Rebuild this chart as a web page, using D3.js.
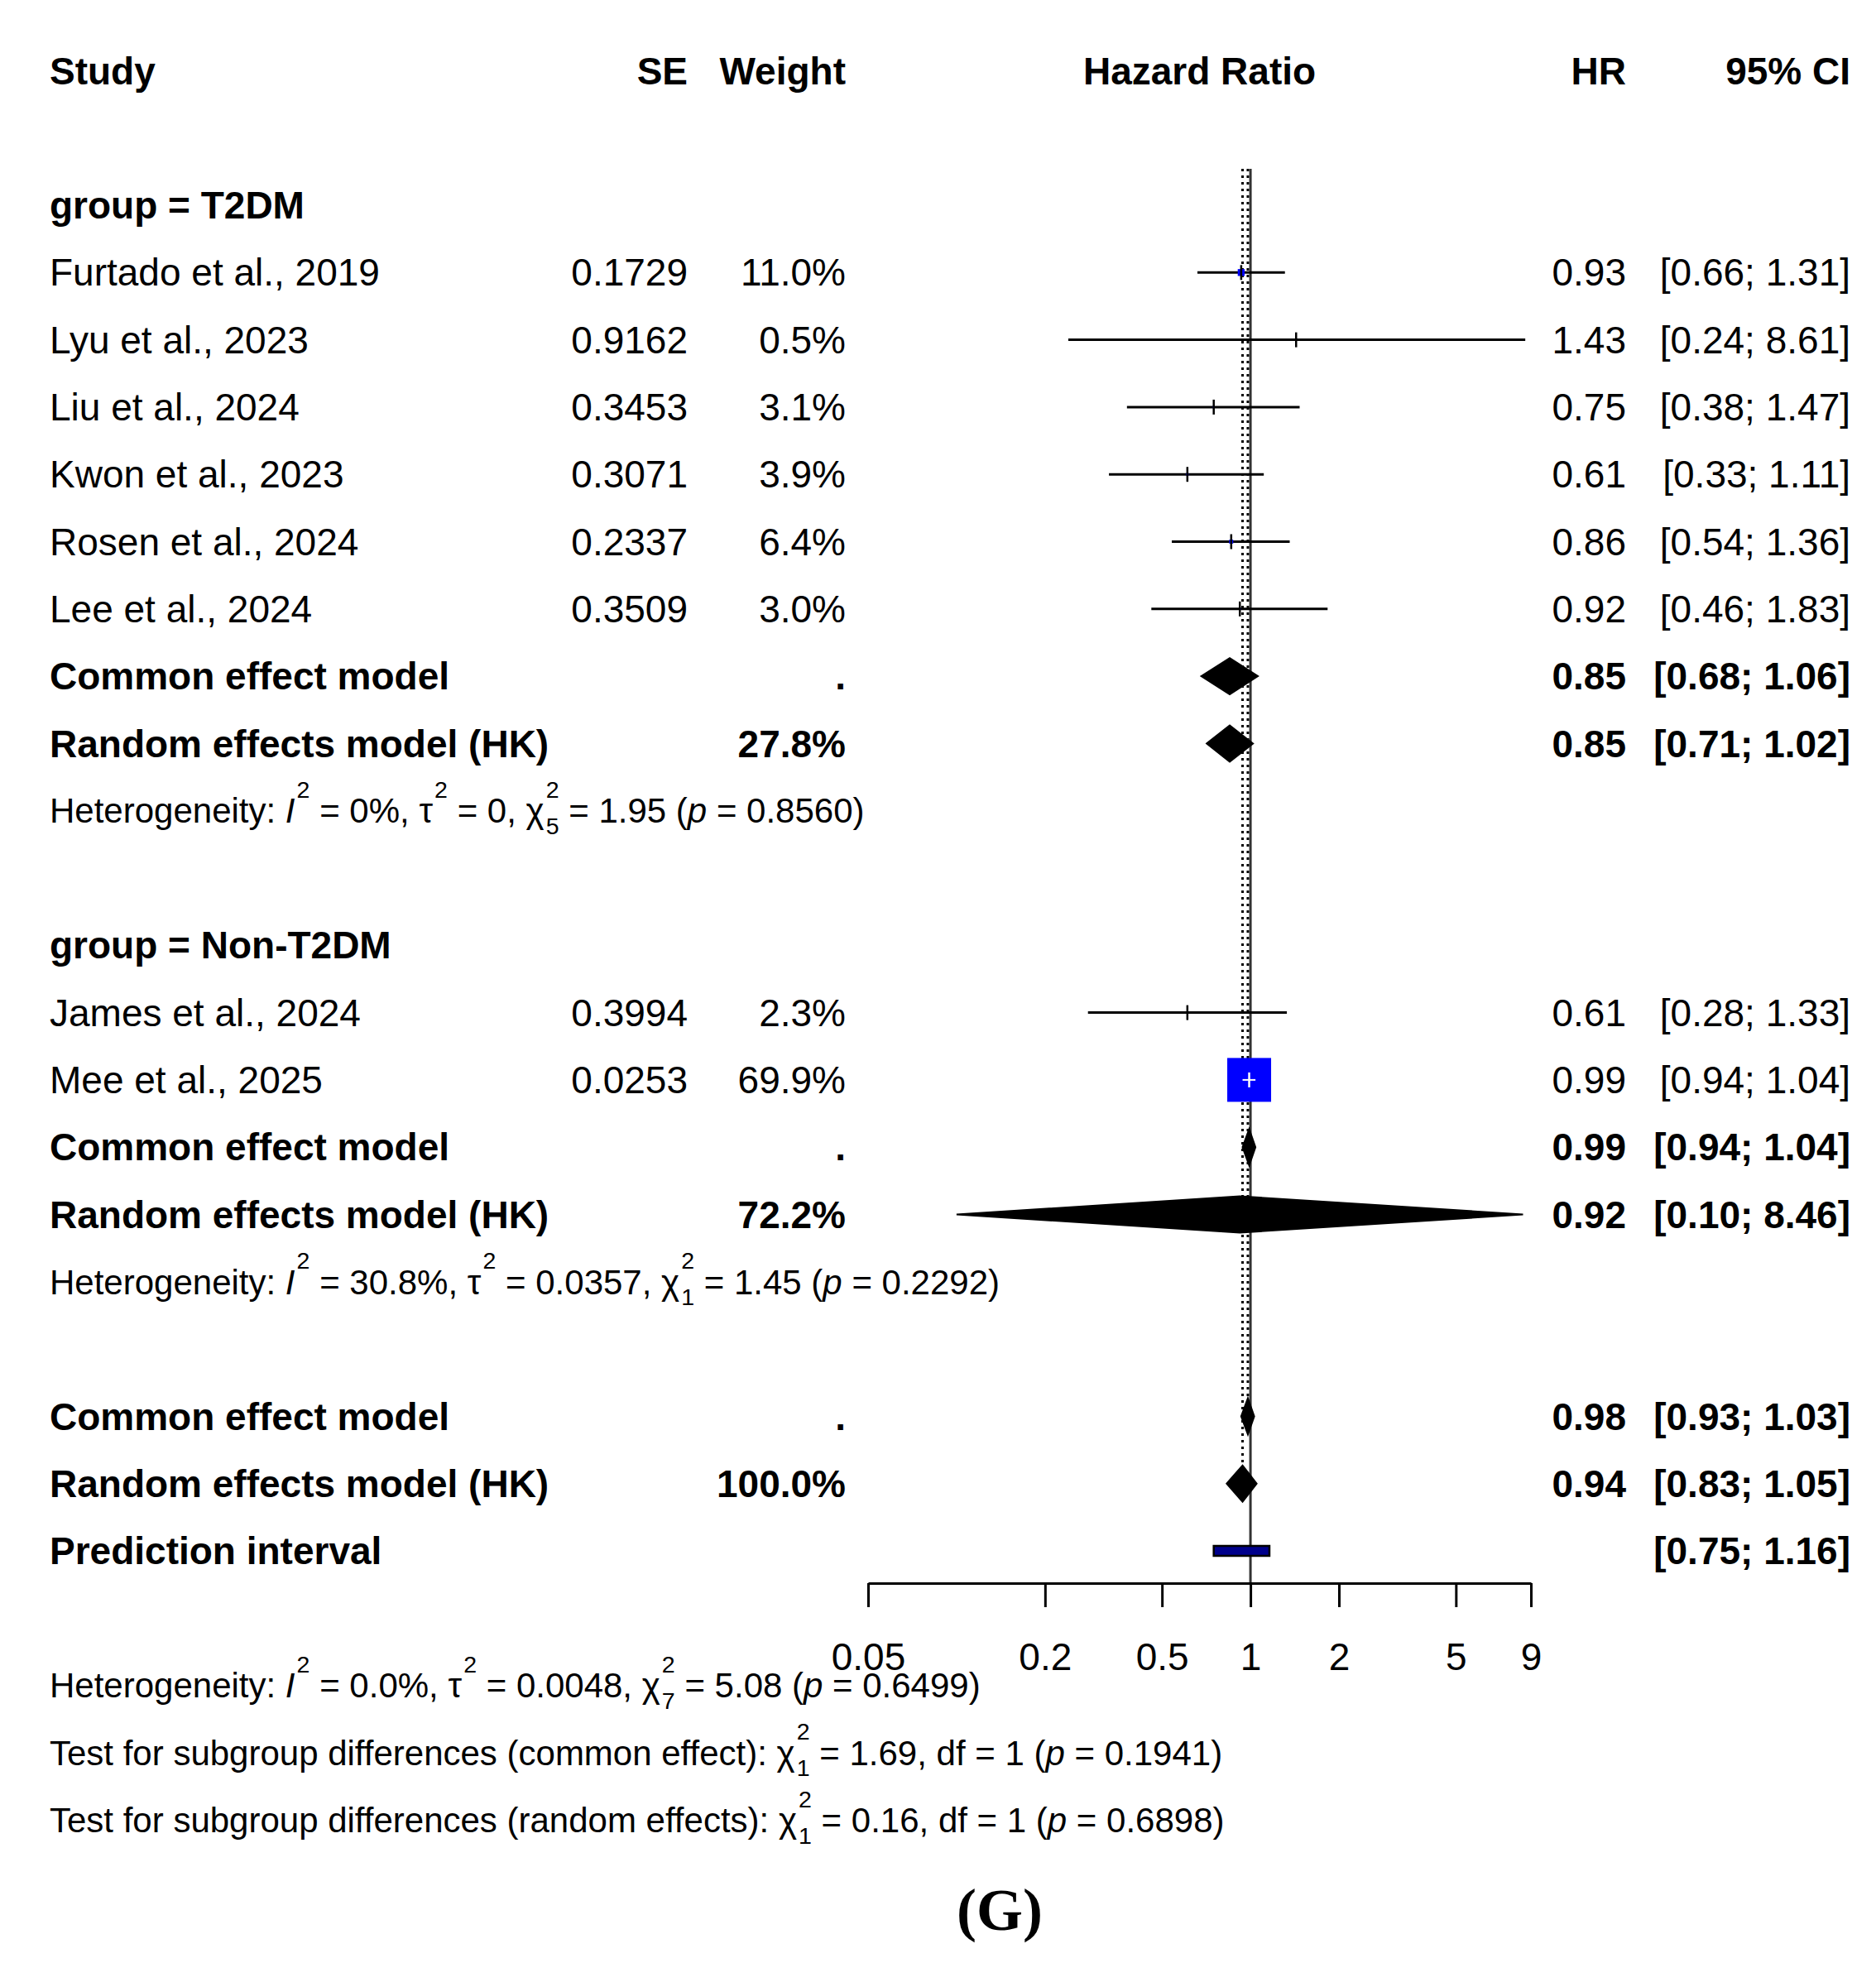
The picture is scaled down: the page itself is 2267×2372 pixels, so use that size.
<!DOCTYPE html>
<html>
<head>
<meta charset="utf-8">
<script src="https://cdn.jsdelivr.net/npm/d3@7"></script>
<style>
  body { margin: 0; background: #fff; }
  text { font-family: "Liberation Sans", Arial, sans-serif; fill: #000; }
</style>
</head>
<body>
<div id="chart"></div>
<script>
// Forest plot data
const studyNames = ["Furtado et al., 2019", "Lyu et al., 2023", "Liu et al., 2024", "Kwon et al., 2023",
                    "Rosen et al., 2024", "Lee et al., 2024", "James et al., 2024", "Mee et al., 2025"];
const studyGroup = ["T2DM", "T2DM", "T2DM", "T2DM", "T2DM", "T2DM", "Non-T2DM", "Non-T2DM"];
const studySE = [0.1729, 0.9162, 0.3453, 0.3071, 0.2337, 0.3509, 0.3994, 0.0253];
const studyWeight = [11.0, 0.5, 3.1, 3.9, 6.4, 3.0, 2.3, 69.9];
const studyHR = [0.93, 1.43, 0.75, 0.61, 0.86, 0.92, 0.61, 0.99];
const studyLower = [0.66, 0.24, 0.38, 0.33, 0.54, 0.46, 0.28, 0.94];
const studyUpper = [1.31, 8.61, 1.47, 1.11, 1.36, 1.83, 1.33, 1.04];

const groupNames = ["T2DM", "Non-T2DM"];
const modelLabels = ["Common effect model", "Random effects model (HK)"];
// per subgroup then overall: [common, random]
const modelWeight = [[".", "27.8%"], [".", "72.2%"], [".", "100.0%"]];
const modelHR = [[0.85, 0.85], [0.99, 0.92], [0.98, 0.94]];
const modelLower = [[0.68, 0.71], [0.94, 0.10], [0.93, 0.83]];
const modelUpper = [[1.06, 1.02], [1.04, 8.46], [1.03, 1.05]];
const predInterval = [0.75, 1.16];

const tickValues = [0.05, 0.2, 0.5, 1, 2, 5, 9];

// heterogeneity / test lines: pieces of text, sup/sub, italic
const hetT2DM = [{t: "Heterogeneity: "}, {t: "I", it: true}, {sup: "2"}, {t: " = 0%, τ"}, {sup: "2"},
                 {t: " = 0, χ"}, {sup: "2", sub: "5"}, {t: " = 1.95 ("}, {t: "p", it: true}, {t: " = 0.8560)"}];
const hetNon = [{t: "Heterogeneity: "}, {t: "I", it: true}, {sup: "2"}, {t: " = 30.8%, τ"}, {sup: "2"},
                {t: " = 0.0357, χ"}, {sup: "2", sub: "1"}, {t: " = 1.45 ("}, {t: "p", it: true}, {t: " = 0.2292)"}];
const hetAll = [{t: "Heterogeneity: "}, {t: "I", it: true}, {sup: "2"}, {t: " = 0.0%, τ"}, {sup: "2"},
                {t: " = 0.0048, χ"}, {sup: "2", sub: "7"}, {t: " = 5.08 ("}, {t: "p", it: true}, {t: " = 0.6499)"}];
const testCommon = [{t: "Test for subgroup differences (common effect): χ"}, {sup: "2", sub: "1"},
                    {t: " = 1.69, df = 1 ("}, {t: "p", it: true}, {t: " = 0.1941)"}];
const testRandom = [{t: "Test for subgroup differences (random effects): χ"}, {sup: "2", sub: "1"},
                    {t: " = 0.16, df = 1 ("}, {t: "p", it: true}, {t: " = 0.6898)"}];

const width = 2267, height = 2372;
const fs = 46, fsSmall = 42;

const svg = d3.select("#chart").append("svg")
    .attr("width", width)
    .attr("height", height);
svg.append("rect").attr("width", width).attr("height", height).attr("fill", "#fff");

// row -> y, hazard ratio -> x
const y = d3.scaleLinear().domain([0, 24]).range([248, 248 + 24 * 81.3]);
const x = d3.scaleLog().domain([0.05, 9]).range([1049, 1850]);
const boxSize = d3.scaleLinear().domain([0, 69.9]).range([0, 53]);

const col = { study: 60, se: 831, weight: 1022, hr: 1965, ci: 2236 };
const fmtSE = d3.format(".4f"), fmtW = d3.format(".1f"), fmtHR = d3.format(".2f");
const ciText = (lo, hi) => `[${fmtHR(lo)}; ${fmtHR(hi)}]`;

// build the row layout
const rows = [];
let r = 0;
groupNames.forEach((g, gi) => {
    rows.push({ type: "group", row: r++, label: "group = " + g });
    studyNames.forEach((name, i) => {
        if (studyGroup[i] !== g) return;
        rows.push({ type: "study", row: r++, label: name, se: studySE[i], w: studyWeight[i],
                    hr: studyHR[i], lo: studyLower[i], hi: studyUpper[i] });
    });
    modelLabels.forEach((m, k) => {
        rows.push({ type: "model", row: r++, label: m, weight: modelWeight[gi][k],
                    hr: modelHR[gi][k], lo: modelLower[gi][k], hi: modelUpper[gi][k] });
    });
    rows.push({ type: "het", row: r++, parts: gi === 0 ? hetT2DM : hetNon });
    r++; // blank line
});
modelLabels.forEach((m, k) => {
    rows.push({ type: "model", row: r++, label: m, weight: modelWeight[2][k],
                hr: modelHR[2][k], lo: modelLower[2][k], hi: modelUpper[2][k], overall: k });
});
rows.push({ type: "pred", row: r++, label: "Prediction interval", lo: predInterval[0], hi: predInterval[1] });
const axisY = y(r - 1) + 39;
rows.push({ type: "het", row: r + 1, parts: hetAll });
rows.push({ type: "het", row: r + 2, parts: testCommon });
rows.push({ type: "het", row: r + 3, parts: testRandom });

// header
const header = svg.append("g").attr("font-weight", "bold").attr("font-size", fs);
const hy = y(-2) + fs * 0.35;
header.append("text").attr("x", col.study).attr("y", hy).text("Study");
header.append("text").attr("x", col.se).attr("y", hy).attr("text-anchor", "end").text("SE");
header.append("text").attr("x", col.weight).attr("y", hy).attr("text-anchor", "end").text("Weight");
header.append("text").attr("x", (x(0.05) + x(9)) / 2).attr("y", hy).attr("text-anchor", "middle").text("Hazard Ratio");
header.append("text").attr("x", col.hr).attr("y", hy).attr("text-anchor", "end").text("HR");
header.append("text").attr("x", col.ci).attr("y", hy).attr("text-anchor", "end").text("95% CI");

// reference lines
const plot = svg.append("g");
const lineTop = 204;
plot.append("line")
    .attr("x1", x(1)).attr("x2", x(1))
    .attr("y1", lineTop).attr("y2", axisY)
    .attr("stroke", "#333").attr("stroke-width", 3);
rows.filter(d => d.overall !== undefined).forEach(d => {
    plot.append("line")
        .attr("x1", x(d.hr)).attr("x2", x(d.hr))
        .attr("y1", lineTop).attr("y2", y(d.row))
        .attr("stroke", "#000").attr("stroke-width", 3)
        .attr("stroke-dasharray", "3,5");
});

// text with plotmath-like super/subscripts
function richText(g, xx, yy, parts, size) {
    const t = g.append("text").attr("x", xx).attr("y", yy).attr("font-size", size);
    const small = size * 0.68;
    let off = 0;
    parts.forEach(p => {
        if (p.sup) {
            t.append("tspan").attr("dx", size * 0.05).attr("dy", -0.72 * size - off)
                .attr("font-size", small).text(p.sup);
            off = -0.72 * size;
            if (p.sub) {
                t.append("tspan").attr("dx", -small * 0.556).attr("dy", 1.05 * size)
                    .attr("font-size", small).text(p.sub);
                off = 0.33 * size;
            }
        } else {
            t.append("tspan").attr("dy", -off).attr("font-style", p.it ? "italic" : null).text(p.t);
            off = 0;
        }
    });
}

const txt = svg.append("g");
rows.forEach(d => {
    const yy = y(d.row) + fs * 0.35;
    if (d.type === "het") {
        richText(txt, col.study, y(d.row) + fsSmall * 0.35, d.parts, fsSmall);
        return;
    }
    const bold = d.type !== "study";
    const g = txt.append("g").attr("font-size", fs).attr("font-weight", bold ? "bold" : null);
    g.append("text").attr("x", col.study).attr("y", yy).text(d.label);
    if (d.type === "study") {
        g.append("text").attr("x", col.se).attr("y", yy).attr("text-anchor", "end").text(fmtSE(d.se));
        g.append("text").attr("x", col.weight).attr("y", yy).attr("text-anchor", "end").text(fmtW(d.w) + "%");
    }
    if (d.type === "model") {
        g.append("text").attr("x", col.weight).attr("y", yy).attr("text-anchor", "end").text(d.weight);
    }
    if (d.type === "study" || d.type === "model") {
        g.append("text").attr("x", col.hr).attr("y", yy).attr("text-anchor", "end").text(fmtHR(d.hr));
    }
    if (d.type !== "group") {
        g.append("text").attr("x", col.ci).attr("y", yy).attr("text-anchor", "end").text(ciText(d.lo, d.hi));
    }
});

// study CIs and boxes
const studies = rows.filter(d => d.type === "study");
plot.selectAll(".ci").data(studies).join("line")
    .attr("x1", d => x(d.lo)).attr("x2", d => x(d.hi))
    .attr("y1", d => y(d.row)).attr("y2", d => y(d.row))
    .attr("stroke", "#000").attr("stroke-width", 3);
plot.selectAll(".box").data(studies).join("rect")
    .attr("x", d => x(d.hr) - boxSize(d.w) / 2)
    .attr("y", d => y(d.row) - boxSize(d.w) / 2)
    .attr("width", d => boxSize(d.w)).attr("height", d => boxSize(d.w))
    .attr("fill", "#0000ff");
// CI / tick drawn white where covered by the box
plot.selectAll(".ciw").data(studies.filter(d => x(d.hi) - x(d.lo) < boxSize(d.w))).join("line")
    .attr("x1", d => x(d.lo)).attr("x2", d => x(d.hi))
    .attr("y1", d => y(d.row)).attr("y2", d => y(d.row))
    .attr("stroke", "#fff").attr("stroke-width", 2);
plot.selectAll(".tick-est").data(studies).join("line")
    .attr("x1", d => x(d.hr)).attr("x2", d => x(d.hr))
    .attr("y1", d => y(d.row) - 9).attr("y2", d => y(d.row) + 9)
    .attr("stroke", d => x(d.hi) - x(d.lo) < boxSize(d.w) ? "#fff" : "#000")
    .attr("stroke-width", 2.5);

// diamonds
const models = rows.filter(d => d.type === "model");
const dh = 22;
plot.selectAll(".diamond").data(models).join("path")
    .attr("d", d => {
        const c = y(d.row);
        return `M${x(d.lo)},${c}L${x(d.hr)},${c - dh}L${x(d.hi)},${c}L${x(d.hr)},${c + dh}Z`;
    })
    .attr("fill", "#000").attr("stroke", "#000").attr("stroke-width", 2);

// prediction interval
const pred = rows.find(d => d.type === "pred");
plot.append("rect")
    .attr("x", x(pred.lo)).attr("y", y(pred.row) - 6)
    .attr("width", x(pred.hi) - x(pred.lo)).attr("height", 12)
    .attr("fill", "#00008b").attr("stroke", "#000").attr("stroke-width", 2.5);

// axis
const axis = d3.axisBottom(x)
    .tickValues(tickValues)
    .tickFormat(d => String(d))
    .tickSizeInner(29).tickSizeOuter(0)
    .tickPadding(43);
const ax = svg.append("g").attr("transform", `translate(0,${axisY})`).call(axis);
ax.selectAll("path, line").attr("stroke", "#000").attr("stroke-width", 3);
ax.selectAll("text").attr("font-size", fs).attr("font-family", "Liberation Sans, Arial, sans-serif").attr("fill", "#000");

// panel letter
svg.append("text")
    .attr("x", 1208).attr("y", 2332)
    .attr("text-anchor", "middle")
    .style("font-family", "'Liberation Serif', 'Times New Roman', serif")
    .attr("font-weight", "bold").attr("font-size", 72)
    .text("(G)");
</script>
</body>
</html>
